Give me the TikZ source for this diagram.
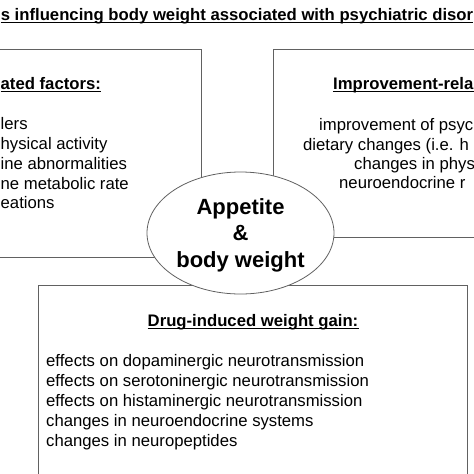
\documentclass[tikz,border=0pt]{standalone}
\usepackage{fontspec}
\setmainfont{Liberation Sans}
\begin{document}
\begin{tikzpicture}[x=1pt,y=-1pt,
  boxline/.style={draw=black!62,line width=0.8pt},
  txt/.style={inner sep=0pt,font=\fontsize{16.7}{20}\selectfont},
  head/.style={inner sep=0pt,font=\fontsize{16.7}{20}\selectfont\bfseries},
  big/.style={inner sep=0pt,font=\fontsize{22}{26}\selectfont\bfseries},
  uline/.style={line width=0.9pt,black}]
\useasboundingbox (0,0) rectangle (474,474);
\clip (0,0) rectangle (474,474);
% title
\node[head,anchor=base] (title) at (237,20) {s influencing body weight associated with psychiatric disor};
\draw[uline] ([yshift=-2.6pt]title.base west) -- ([yshift=-2.6pt]title.base east);
% boxes
\draw[boxline] (-20,49) rectangle (201,257);
\draw[boxline] (273,49) rectangle (520,237);
\draw[boxline] (38,285) rectangle (467,520);
% left box texts
\node[head,anchor=base west] (lh) at (0.5,89) {ated factors:};
\draw[uline] ([yshift=-2.6pt]lh.base west) -- ([yshift=-2.6pt]lh.base east);
\node[txt,anchor=base west] (l1) at (0.5,129) {lers};
\node[txt,anchor=base west] (l2) at (0.5,149) {hysical activity};
\node[txt,anchor=base west] (l3) at (0.5,169) {ine abnormalities};
\node[txt,anchor=base west] (l4) at (0.5,189) {ne metabolic rate};
\node[txt,anchor=base west] (l5) at (0.5,208) {eations};
% right box texts
\node[head,anchor=base east] (rh) at (473.5,89) {Improvement-rela};
\draw[uline] ([yshift=-2.6pt]rh.base west) -- ([yshift=-2.6pt]rh.base east);
\node[txt,anchor=base east] (r1) at (473.5,130) {improvement of psyc};
\node[txt,anchor=base west] (r2) at (303,150) {dietary changes (i.e. h};
\node[txt,anchor=base west] (r3) at (354,169) {changes in phys};
\node[txt,anchor=base west] (r4) at (339,188) {neuroendocrine r};
% bottom box texts
\node[head,anchor=base] (bh) at (253,326) {Drug-induced weight gain:};
\draw[uline] ([yshift=-2.6pt]bh.base west) -- ([yshift=-2.6pt]bh.base east);
\node[txt,anchor=base west] (b1) at (46,366) {effects on dopaminergic neurotransmission};
\node[txt,anchor=base west] (b2) at (46,386) {effects on serotoninergic neurotransmission};
\node[txt,anchor=base west] (b3) at (46,406) {effects on histaminergic neurotransmission};
\node[txt,anchor=base west] (b4) at (46,426) {changes in neuroendocrine systems};
\node[txt,anchor=base west] (b5) at (46,446) {changes in neuropeptides};
% ellipse
\draw[boxline,fill=white] (240.5,233) ellipse [x radius=93.5, y radius=61];
\node[big,anchor=base] (e1) at (240.5,214) {Appetite};
\node[big,anchor=base] (e2) at (240.5,240.5) {\&};
\node[big,anchor=base] (e3) at (240.5,267) {body weight};
\end{tikzpicture}
\end{document}
